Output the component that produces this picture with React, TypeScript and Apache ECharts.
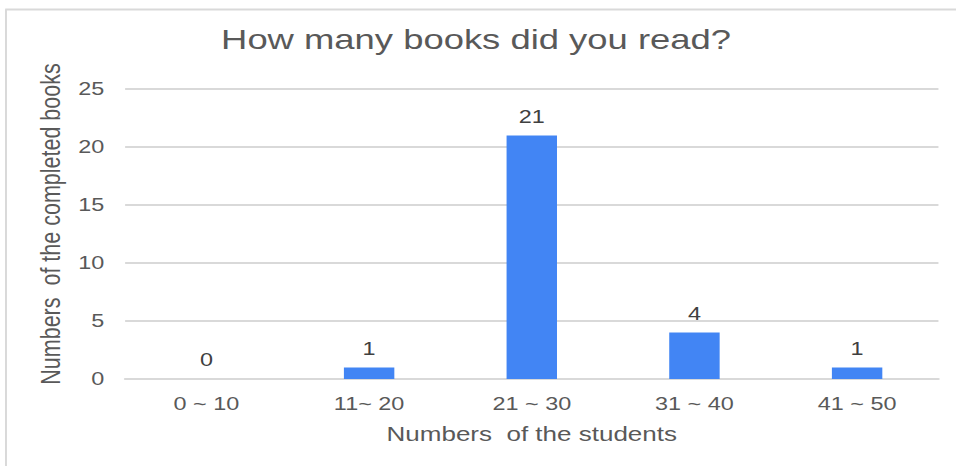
import React, { useEffect, useRef } from "react";
import * as echarts from "echarts";

const categories = ["0 ~ 10", "11~ 20", "21 ~ 30", "31 ~ 40", "41 ~ 50"];
const values = [0, 1, 21, 4, 1];
const titleText = "How many books did you read?";
const xName = "Numbers  of the students";
const yName = "Numbers  of the completed books";

const FONT = "Arial, 'Liberation Sans', sans-serif";
const GREY = "#595959";
const LINE = "#d9d9d9";

// The reference is drawn horizontally stretched: render narrower and stretch.
const PAGE_W = 956;
const INNER_W = 735;
const SX = PAGE_W / INNER_W;

export default function App() {
  const ref = useRef<HTMLDivElement>(null);
  useEffect(() => {
    if (!ref.current) return;
    const chart = echarts.init(ref.current, undefined, { renderer: "svg" });
    chart.setOption({
      animation: false,
      backgroundColor: "#ffffff",
      title: {
        text: titleText,
        left: 361,
        textAlign: "center",
        top: 21,
        textStyle: { fontFamily: FONT, fontSize: 28, fontWeight: "normal", color: GREY },
      },
      graphic: [
        {
          type: "line",
          shape: { x1: 4.6, y1: 9.5, x2: 4.6, y2: 480 },
          style: { stroke: LINE, lineWidth: 1.5 },
          silent: true,
        },
        {
          type: "line",
          shape: { x1: 4, y1: 9.5, x2: 760, y2: 9.5 },
          style: { stroke: LINE, lineWidth: 2 },
          silent: true,
        },
      ],
      grid: { left: 96.2, right: 13.5, top: 89, bottom: 87 },
      xAxis: {
        type: "category",
        data: categories,
        axisLine: { show: true, lineStyle: { color: LINE, width: 2 } },
        axisTick: { show: false },
        axisLabel: { color: GREY, fontSize: 18, fontFamily: FONT, margin: 15.5 },
        name: xName,
        nameLocation: "middle",
        nameGap: 45,
        nameTextStyle: { color: GREY, fontSize: 20, fontFamily: FONT },
      },
      yAxis: {
        type: "value",
        min: 0,
        max: 25,
        interval: 5,
        axisLine: { show: false },
        axisTick: { show: false },
        splitLine: { lineStyle: { color: LINE, width: 2 } },
        axisLabel: { color: GREY, fontSize: 18, fontFamily: FONT, margin: 16 },
        name: yName,
        nameLocation: "middle",
        nameGap: 42,
        nameTextStyle: {
          color: GREY,
          fontSize: 21.5,
          fontFamily: FONT,
          padding: [0, 0, 0, 20],
        },
      },
      series: [
        {
          type: "bar",
          data: values,
          barWidth: "31%",
          itemStyle: { color: "#4285f4" },
          label: {
            show: true,
            position: "top",
            distance: 10,
            color: "#404040",
            fontSize: 18,
            fontFamily: FONT,
          },
        },
      ],
    });
    return () => chart.dispose();
  }, []);
  return (
    <div
      ref={ref}
      style={{
        position: "absolute",
        left: 0,
        top: 0,
        width: INNER_W,
        height: 466,
        transform: `scaleX(${SX})`,
        transformOrigin: "0 0",
      }}
    />
  );
}
